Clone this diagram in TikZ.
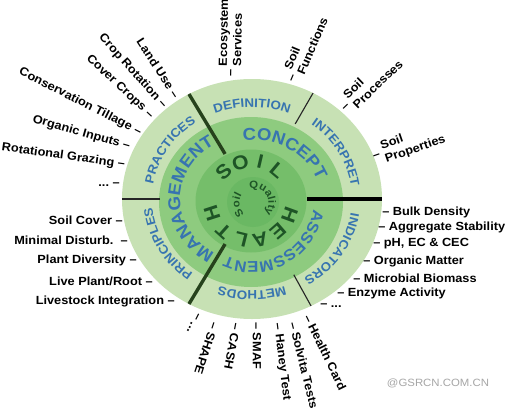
\documentclass[tikz,border=0pt]{standalone}
\usepackage{fontspec}
\setmainfont{Liberation Sans}[FakeStretch=1.08]
\usetikzlibrary{decorations.text}

\definecolor{ringpale}{RGB}{199,225,180}
\definecolor{ringmid}{RGB}{142,203,127}
\definecolor{ringcore}{RGB}{117,190,106}
\definecolor{ringheart}{RGB}{106,184,99}
\definecolor{ringblue}{RGB}{55,116,176}
\definecolor{soilgreen}{RGB}{30,84,38}
\definecolor{barkgreen}{RGB}{38,66,28}

\newcommand{\ringfont}{\bfseries\fontsize{8.8}{8.8}\selectfont}
\newcommand{\bandfont}{\bfseries\fontsize{12.2}{12.2}\selectfont}
\newcommand{\bandsmallfont}{\bfseries\fontsize{11}{11}\selectfont}
\newcommand{\heartfont}{\bfseries\fontsize{7.5}{7.5}\selectfont}

\begin{document}
\begin{tikzpicture}[x=0.025cm,y=0.025cm]

    \tikzset{
      item/.style={font=\bfseries\fontsize{8.4}{10}\selectfont, inner sep=0pt},
      ringtext/.style={decorate, decoration={text along path, text align=center,
        text color=ringblue, text={|\ringfont|#1}}},
      bandtext/.style={decorate, decoration={text along path, text align=center,
        text color=ringblue, text={|\bandfont|#1}}},
      bandsmalltext/.style={decorate, decoration={text along path, text align=center,
        text color=ringblue, text={|\bandsmallfont|#1}}},
      hearttext/.style={decorate, decoration={text along path, text align=center,
        text color=soilgreen, text={|\heartfont|#1}}},
      letter/.style={font=\bfseries\fontsize{14}{14}\selectfont, text=soilgreen, inner sep=0pt},
      bar/.style={line width=2.4pt, color=barkgreen},
      cut/.style={line width=0.8pt, color=black!85},
    }
    \useasboundingbox[fill=white] (-252,-209) rectangle (258,199);

    % rings
    \fill[ringpale] (0,0) ellipse [x radius=130, y radius=120];
    \fill[ringmid] (-1,-3) ellipse [x radius=92, y radius=85];
    \fill[ringcore] (-1,-2) ellipse [x radius=55.5, y radius=51.5];
    \fill[ringheart] (1,-3) ellipse [x radius=26, y radius=25];

    % dividers
    \draw[bar] (119:55.5 and 51.5) -- (119:130 and 120);
    \draw[bar] (-119:55.5 and 51.5) -- (-119:130 and 120);
    \draw[bar, color=black, line width=2.8pt] (55,0) -- (130,0);
    \draw[cut] (62:92 and 85) -- (62:130 and 120);
    \draw[cut] (-63:92 and 85) -- (-63:130 and 120);
    \draw[cut] (-92,0) -- (-130,0);

    % outer ring
    \path[ringtext=DEFINITION] (135:100 and 92) arc[start angle=135, end angle=45, x radius=100, y radius=92];
    \path[ringtext=INTERPRET] (75:100 and 92) arc[start angle=75, end angle=-15, x radius=100, y radius=92];
    \path[ringtext=INDICATORS] (12:100 and 92) arc[start angle=12, end angle=-78, x radius=100, y radius=92];
    \path[ringtext=METHODS] (-45:100 and 92) arc[start angle=-45, end angle=-135, x radius=100, y radius=92];
    \path[ringtext=PRINCIPLES] (-106:100 and 92) arc[start angle=-106, end angle=-196, x radius=100, y radius=92];
    \path[ringtext=PRACTICES] (193:100 and 92) arc[start angle=193, end angle=103, x radius=100, y radius=92];

    % middle ring
    \path[bandtext=CONCEPT] (112:69 and 59) arc[start angle=112, end angle=2, x radius=69, y radius=59];
    \path[bandsmalltext=ASSESSMENT] (-7:62 and 63) arc[start angle=-7, end angle=-117, x radius=62, y radius=63];
    \path[bandtext=MANAGEMENT] (237:72 and 63) arc[start angle=237, end angle=123, x radius=72, y radius=63];

    % soil health
    \begin{scope}[shift={(-1,-2)}]
    \node[letter, rotate=42] (s1) at (132:41 and 40) {S};
    \node[letter, rotate=15] (s2) at (105:41 and 40) {O};
    \node[letter, rotate=-13] (s3) at (77:41 and 40) {I};
    \node[letter, rotate=-40] (s4) at (50:41 and 40) {L};
    \node[letter, rotate=-110] (h1) at (-20:41 and 40) {H};
    \node[letter, rotate=-139] (h2) at (-49:41 and 40) {E};
    \node[letter, rotate=-167] (h3) at (-77:41 and 40) {A};
    \node[letter, rotate=-194] (h4) at (-104:41 and 40) {L};
    \node[letter, rotate=-222] (h5) at (-132:41 and 40) {T};
    \node[letter, rotate=-252] (h6) at (-162:41 and 40) {H};
    \end{scope}

    \begin{scope}[shift={(2,-4)}]
    \path[hearttext=Soil] (-120:14.5) arc[start angle=-120, end angle=-224, radius=14.5];
    \path[hearttext=Quality] (130:14.5) arc[start angle=130, end angle=-66, radius=14.5];
    \end{scope}

    % labels, upper left
    \node[item, rotate=-57, anchor=east] (landuse) at (-75,102) {Land Use \textendash};
    \node[item, rotate=-48, anchor=east] (croprotation) at (-87,92) {Crop Rotation \textendash};
    \node[item, rotate=-43, anchor=east] (covercrops) at (-100,82) {Cover Crops \textendash};
    \node[item, rotate=-27, anchor=east] (tillage) at (-111,66) {Conservation Tillage \textendash};
    \node[item, rotate=-16, anchor=east] (inputs) at (-122,52) {Organic Inputs \textendash};
    \node[item, rotate=-8, anchor=east] (grazing) at (-127,34) {Rotational Grazing \textendash};
    \node[item, anchor=east] (morepractices) at (-132,14) {...\ \textendash};

    % labels, lower left
    \node[item, anchor=east] (soilcover) at (-129,-21) {Soil Cover \textendash};
    \node[item, anchor=east] (disturb) at (-124,-41) {Minimal Disturb.\ \ \textendash};
    \node[item, anchor=east] (diversity) at (-115,-61) {Plant Diversity \textendash};
    \node[item, anchor=east] (liveroot) at (-99,-82) {Live Plant/Root \textendash};
    \node[item, anchor=east] (livestock) at (-77,-102) {Livestock Integration \textendash};

    % labels, right
    \node[item, anchor=west] (bulk) at (130,-13) {\textendash\ Bulk Density};
    \node[item, anchor=west] (aggregate) at (126,-28) {\textendash\ Aggregate Stability};
    \node[item, anchor=west] (phcec) at (121,-45) {\textendash\ pH, EC \& CEC};
    \node[item, anchor=west] (organic) at (111,-62) {\textendash\ Organic Matter};
    \node[item, anchor=west] (microbial) at (101,-79) {\textendash\ Microbial Biomass};
    \node[item, anchor=west] (enzyme) at (85,-94) {\textendash\ Enzyme Activity};
    \node[item, anchor=west] (moreindicators) at (68,-107) {\textendash\ ...};

    % labels, top
    \node[item, rotate=89, anchor=west] (ecosystem) at (-21,122) {\textendash\ \begin{tabular}{@{}l@{}}Ecosystem\\Services\end{tabular}};
    \node[item, rotate=67, anchor=west] (functions) at (39,117) {\textendash\ \begin{tabular}{@{}l@{}}Soil\\Functions\end{tabular}};
    \node[item, rotate=44, anchor=west] (processes) at (91,89) {\textendash\ \begin{tabular}{@{}l@{}}Soil\\Processes\end{tabular}};
    \node[item, rotate=19, anchor=west] (properties) at (121,42) {\textendash\ \begin{tabular}{@{}l@{}}Soil\\Properties\end{tabular}};

    % labels, bottom
    \node[item, rotate=-117, anchor=west] (moremethods) at (-54,-114) {\textendash\ ...};
    \node[item, rotate=-108, anchor=west] (shape) at (-37,-123) {\textendash\ SHAPE};
    \node[item, rotate=-101, anchor=west] (cash) at (-15,-124) {\textendash\ CASH};
    \node[item, rotate=-90, anchor=west] (smaf) at (5,-123) {\textendash\ SMAF};
    \node[item, rotate=-83, anchor=west] (haney) at (25,-124) {\textendash\ Haney Test};
    \node[item, rotate=-76, anchor=west] (solvita) at (41,-123) {\textendash\ Solvita Tests};
    \node[item, rotate=-64, anchor=west] (healthcard) at (55,-116) {\textendash\ Health Card};

    \node[font=\fontsize{7.5}{8}\selectfont, text=black!35, inner sep=0pt] (gsrcn) at (186,-184) {@GSRCN.COM.CN};

\end{tikzpicture}
\end{document}
